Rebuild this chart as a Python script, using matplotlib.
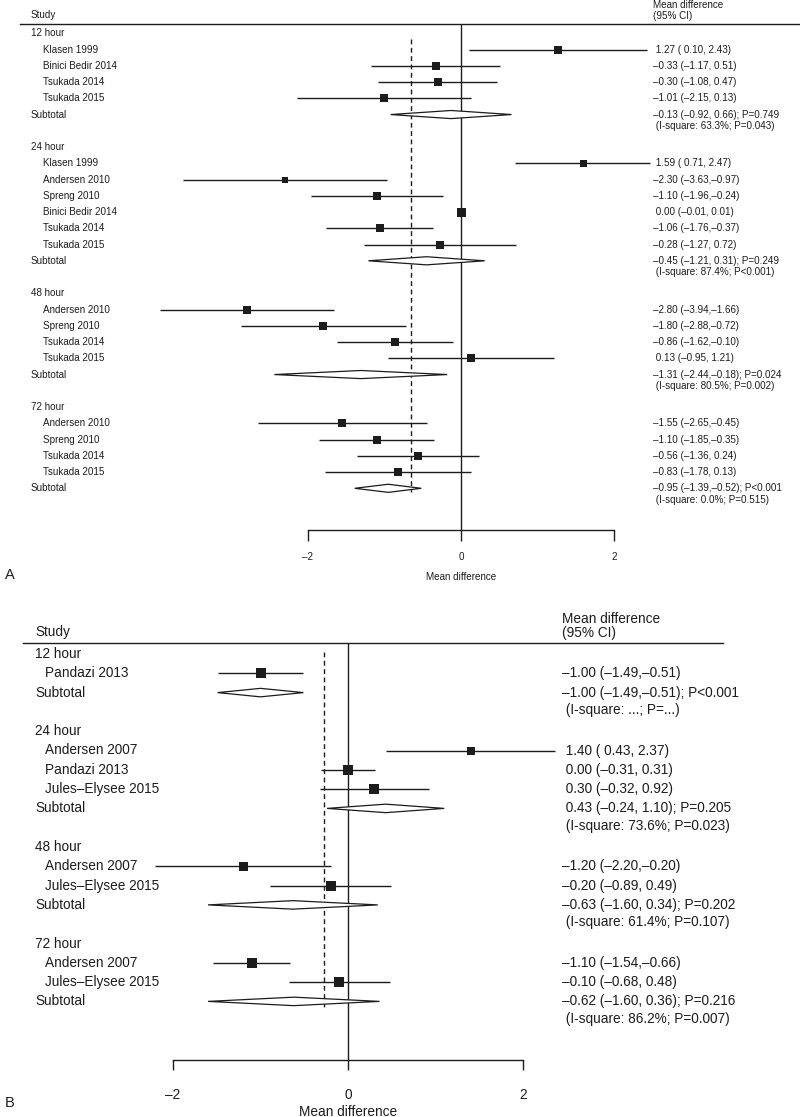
import matplotlib
matplotlib.use("Agg")
import matplotlib.pyplot as plt
import matplotlib.transforms as mtransforms
from matplotlib.patches import Polygon
from matplotlib.lines import Line2D

plt.rcParams['font.family'] = ['Liberation Sans', 'DejaVu Sans']

W, H = 800, 1117
INK = "#1c1c1c"

# ---------------- panel A data ----------------
groups_a = ["12 hour", "24 hour", "48 hour", "72 hour"]
studies_a = [
    ["Klasen 1999", "Binici Bedir 2014", "Tsukada 2014", "Tsukada 2015"],
    ["Klasen 1999", "Andersen 2010", "Spreng 2010", "Binici Bedir 2014", "Tsukada 2014", "Tsukada 2015"],
    ["Andersen 2010", "Spreng 2010", "Tsukada 2014", "Tsukada 2015"],
    ["Andersen 2010", "Spreng 2010", "Tsukada 2014", "Tsukada 2015"],
]
est_a = [[1.27, -0.33, -0.30, -1.01],
         [1.59, -2.30, -1.10, 0.00, -1.06, -0.28],
         [-2.80, -1.80, -0.86, 0.13],
         [-1.55, -1.10, -0.56, -0.83]]
lo_a = [[0.10, -1.17, -1.08, -2.15],
        [0.71, -3.63, -1.96, -0.01, -1.76, -1.27],
        [-3.94, -2.88, -1.62, -0.95],
        [-2.65, -1.85, -1.36, -1.78]]
hi_a = [[2.43, 0.51, 0.47, 0.13],
        [2.47, -0.97, -0.24, 0.01, -0.37, 0.72],
        [-1.66, -0.72, -0.10, 1.21],
        [-0.45, -0.35, 0.24, 0.13]]
sub_est_a = [-0.13, -0.45, -1.31, -0.95]
sub_lo_a = [-0.92, -1.21, -2.44, -1.39]
sub_hi_a = [0.66, 0.31, -0.18, -0.52]
sub_p_a = ["P=0.749", "P=0.249", "P=0.024", "P<0.001"]
isq_a = ["63.3%", "87.4%", "80.5%", "0.0%"]
het_p_a = ["P=0.043", "P<0.001", "P=0.002", "P=0.515"]
overall_a = -0.66

# ---------------- panel B data ----------------
groups_b = ["12 hour", "24 hour", "48 hour", "72 hour"]
studies_b = [
    ["Pandazi 2013"],
    ["Andersen 2007", "Pandazi 2013", "Jules\u2013Elysee 2015"],
    ["Andersen 2007", "Jules\u2013Elysee 2015"],
    ["Andersen 2007", "Jules\u2013Elysee 2015"],
]
est_b = [[-1.00], [1.40, 0.00, 0.30], [-1.20, -0.20], [-1.10, -0.10]]
lo_b = [[-1.49], [0.43, -0.31, -0.32], [-2.20, -0.89], [-1.54, -0.68]]
hi_b = [[-0.51], [2.37, 0.31, 0.92], [-0.20, 0.49], [-0.66, 0.48]]
sub_est_b = [-1.00, 0.43, -0.63, -0.62]
sub_lo_b = [-1.49, -0.24, -1.60, -1.60]
sub_hi_b = [-0.51, 1.10, 0.34, 0.36]
sub_p_b = ["P<0.001", "P=0.205", "P=0.202", "P=0.216"]
isq_b = ["...", "73.6%", "61.4%", "86.2%"]
het_p_b = ["P=...", "P=0.023", "P=0.107", "P=0.007"]
overall_b = -0.27

ticks = [-2, 0, 2]
tick_labels = ["\u20132", "0", "2"]

# marker sizes (px)
msize_a = [[7.3, 7.7, 7.7, 7.7], [7.0, 6.7, 8.0, 9.0, 8.3, 7.7],
           [7.7, 7.7, 8.0, 7.7], [7.7, 8.0, 8.0, 7.7]]
msize_b = [[10.3], [8.3, 10.7, 10.0], [9.0, 10.0], [10.7, 10.3]]


def fx(x):
    return x / W


def fy(y):
    return 1 - y / H


def fmt(e, l, h):
    s = f"{e:5.2f} ({l:5.2f},{h:5.2f})"
    return s.replace("-", "\u2013")


fig = plt.figure(figsize=(W / 100, H / 100), dpi=100)
PX2PT = 72 / 100


def panel(groups, studies, est, lo, hi, sub_est, sub_lo, sub_hi, sub_p, isq, het_p,
          overall, msize, L):
    y0, rh = L["y0"], L["rh"]
    row = lambda y: (y - y0) / rh
    ax = fig.add_axes([fx(L["xm2"]), fy(L["yaxis"]), (L["xp2"] - L["xm2"]) / W,
                       (L["yaxis"] - L["yline"]) / H])
    ax.set_xlim(-2, 2)
    ax.set_ylim(row(L["yaxis"]), row(L["yline"]))
    for s in ["top", "left", "right"]:
        ax.spines[s].set_visible(False)
    ax.spines["bottom"].set_bounds(-2, 2)
    ax.spines["bottom"].set_color(INK)
    ax.spines["bottom"].set_linewidth(1.0)
    ax.set_yticks([])
    ax.set_xticks(ticks)
    ax.set_xticklabels(tick_labels)
    ax.tick_params(axis="x", direction="out", length=L["tlen"] * PX2PT, width=1.0,
                   color=INK, labelsize=L["fs"], labelcolor=INK,
                   pad=(L["ytick"] - L["yaxis"] - L["tlen"] - L["fs"] / PX2PT * 0.5) * PX2PT)
    ax.patch.set_visible(False)
    ax.axvline(0, color=INK, lw=1.0)

    tr = mtransforms.blended_transform_factory(fig.transFigure, ax.transData)
    fs = L["fs"]
    r = 0
    for g in range(len(groups)):
        ax.text(fx(L["xg"]), r, groups[g], transform=tr, ha="left", va="center",
                fontsize=fs, color=INK)
        for i, name in enumerate(studies[g]):
            rr = r + 1 + i
            ax.text(fx(L["xs"]), rr, name, transform=tr, ha="left", va="center",
                    fontsize=fs, color=INK)
            ax.plot([lo[g][i], hi[g][i]], [rr, rr], color=INK, lw=1.0,
                    solid_capstyle="butt", clip_on=False)
            ax.plot([est[g][i]], [rr], marker="s", ms=msize[g][i] * PX2PT,
                    color=INK, mew=0, clip_on=False)
            ax.text(fx(L["xt"]), rr, fmt(est[g][i], lo[g][i], hi[g][i]), transform=tr,
                    ha="left", va="center", fontsize=fs, color=INK)
        rs = r + 1 + len(studies[g])
        ax.text(fx(L["xg"]), rs, "Subtotal", transform=tr, ha="left", va="center",
                fontsize=fs, color=INK)
        d = L["dh"]
        ax.add_patch(Polygon([(sub_lo[g], rs), (sub_est[g], rs - d), (sub_hi[g], rs),
                              (sub_est[g], rs + d)], closed=True, facecolor="white",
                             edgecolor=INK, lw=0.9, zorder=3, clip_on=False))
        ax.text(fx(L["xt"]), rs, fmt(sub_est[g], sub_lo[g], sub_hi[g]) + "; " + sub_p[g],
                transform=tr, ha="left", va="center", fontsize=fs, color=INK)
        ax.text(fx(L["xt"]), rs + L["isq"] / rh,
                f" (I-square: {isq[g]}; {het_p[g]})", transform=tr, ha="left",
                va="center", fontsize=fs, color=INK)
        r = rs + 2

    ax.plot([overall, overall], L["dash"], color=INK, lw=1.0, ls=(0, (3.5, 2.5)),
            clip_on=False, zorder=1)

    # header
    fig.add_artist(Line2D([fx(L["hl0"]), fx(L["hl1"])], [fy(L["yline"])] * 2,
                          color=INK, lw=1.0))
    fig.text(fx(L["xg"]), fy(L["ystudy"]), "Study", ha="left", va="center",
             fontsize=fs, color=INK)
    fig.text(fx(L["xt"]), fy(L["ymd1"]), "Mean difference", ha="left", va="center",
             fontsize=fs, color=INK)
    fig.text(fx(L["xt"]), fy(L["ymd2"]), "(95% CI)", ha="left", va="center",
             fontsize=fs, color=INK)
    fig.text(fx((L["xm2"] + L["xp2"]) / 2), fy(L["yxlab"]), "Mean difference",
             ha="center", va="center", fontsize=fs, color=INK)
    fig.text(fx(5), fy(L["ylab"]), L["label"], ha="left", va="center",
             fontsize=L["fslab"], color=INK)
    return ax


lay_a = dict(xm2=308, xp2=614, y0=33.3, rh=16.25, yline=24, yaxis=530, tlen=11,
             ytick=557, yxlab=577, fs=7.1, xg=31, xs=43, xt=653, dh=0.25, isq=11.5,
             dash=[0.35, 28.2], hl0=20, hl1=800, ystudy=15, ymd1=5, ymd2=16,
             ylab=575, label="A", fslab=10.5)
lay_b = dict(xm2=173, xp2=523, y0=654, rh=19.3, yline=643, yaxis=1060, tlen=9.5,
             ytick=1095, yxlab=1112, fs=9.8, xg=35, xs=45, xt=562, dh=0.22, isq=17.5,
             dash=[-0.1, 18.45], hl0=23, hl1=723, ystudy=632, ymd1=619, ymd2=633,
             ylab=1103, label="B", fslab=10.5)

panel(groups_a, studies_a, est_a, lo_a, hi_a, sub_est_a, sub_lo_a, sub_hi_a, sub_p_a,
      isq_a, het_p_a, overall_a, msize_a, lay_a)
panel(groups_b, studies_b, est_b, lo_b, hi_b, sub_est_b, sub_lo_b, sub_hi_b, sub_p_b,
      isq_b, het_p_b, overall_b, msize_b, lay_b)

fig.savefig("out.png", dpi=100)
